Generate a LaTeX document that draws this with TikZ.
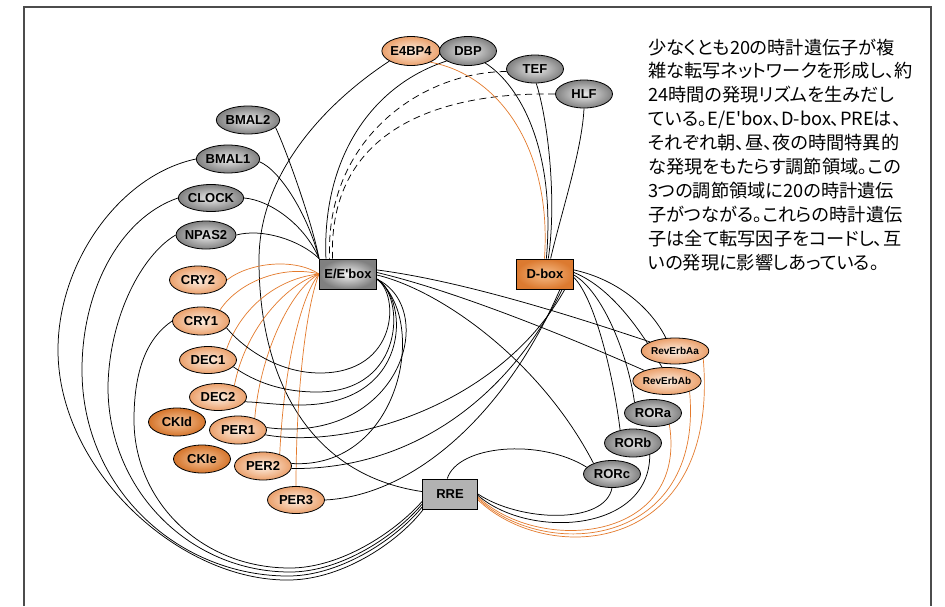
\documentclass[tikz,border=0pt]{standalone}
\usepackage{fontspec}
\newfontfamily\labfont{Liberation Sans}
\newfontfamily\cjkfont{Noto Sans CJK JP}[RawFeature=+palt]
\newcommand\jasetup{\XeTeXlinebreaklocale "ja"\XeTeXlinebreakskip=0pt plus 6pt\relax}
\usetikzlibrary{shapes.geometric,backgrounds}
\definecolor{peachin}{HTML}{FDF0E4}
\definecolor{peachout}{HTML}{EBA06B}
\definecolor{ckin}{HTML}{F6C8A0}
\definecolor{ckout}{HTML}{D5742A}
\definecolor{oline}{HTML}{E47A2C}
\definecolor{dboxin}{HTML}{F7BE8A}
\definecolor{dboxout}{HTML}{DC7A30}
\definecolor{rregray}{HTML}{B2B2B2}
\tikzset{
  gene/.style={ellipse, draw=black, line width=0.8pt, minimum width=57pt, minimum height=28pt, inner sep=0pt, font=\labfont\bfseries\fontsize{13}{15}\selectfont},
  grayg/.style={gene, inner color=black!8, outer color=black!50},
  peach/.style={gene, inner color=peachin, outer color=peachout},
  cki/.style={gene, inner color=ckin, outer color=ckout},
  rev/.style={peach, minimum width=55pt, minimum height=26pt, font=\labfont\bfseries\fontsize{10}{12}\selectfont},
  regbox/.style={rectangle, draw=black, line width=0.9pt, minimum width=57pt, minimum height=30pt, inner sep=0pt, font=\labfont\bfseries\fontsize{13}{15}\selectfont},
  eebox/.style={regbox, inner color=black!5, outer color=black!50},
  dboxst/.style={regbox, inner color=dboxin, outer color=dboxout},
  rrebox/.style={regbox, fill=rregray, minimum width=55pt},
  link/.style={draw=black, line width=0.75pt},
  olink/.style={draw=oline, line width=0.7pt},
  dlink/.style={link, dash pattern=on 7pt off 4.5pt},
  frameline/.style={draw=black!70, line width=1.5pt},
  jline/.style={anchor=base west, inner sep=0pt, font=\cjkfont\fontsize{18.2}{20}\selectfont\jasetup},
}
\newcommand\fl[1]{\makebox[259pt][s]{#1}}
\begin{document}
\begin{tikzpicture}[x=1pt,y=-1pt]
\useasboundingbox (0,0) rectangle (945,606);
% nodes
\node[peach, minimum height=29pt] (e4bp4) at (411,51) {E4BP4};
\node[grayg, minimum height=29pt] (dbp) at (468,51) {DBP};
\node[grayg] (tef) at (535,69) {TEF};
\node[grayg] (hlf) at (584,94) {HLF};
\node[grayg] (bmal2) at (248,120) {BMAL2};
\node[grayg] (bmal1) at (228,159) {BMAL1};
\node[grayg, minimum height=27pt] (clock) at (211,198) {CLOCK};
\node[grayg] (npas2) at (206,235) {NPAS2};
\node[peach] (cry2) at (198,280) {CRY2};
\node[peach] (cry1) at (201,321) {CRY1};
\node[peach, minimum height=27pt] (dec1) at (208,360) {DEC1};
\node[peach, minimum height=27pt] (dec2) at (218,397) {DEC2};
\node[cki] (ckid) at (177,422) {CKId};
\node[peach] (per1) at (238,430) {PER1};
\node[cki] (ckie) at (202,459) {CKIe};
\node[peach] (per2) at (263,466) {PER2};
\node[peach, minimum height=27pt] (per3) at (296,500) {PER3};
\node[eebox] (ee) at (348,274) {E/E'box};
\node[dboxst] (dbox) at (545,274) {D-box};
\node[rrebox] (rre) at (450,494) {RRE};
\node[rev] (reva) at (675,351) {RevErbAa};
\node[rev, minimum width=56pt, minimum height=27pt] (revb) at (667,381) {RevErbAb};
\node[grayg, minimum height=27pt] (rora) at (653,413) {RORa};
\node[grayg] (rorb) at (633,443) {RORb};
\node[grayg, minimum height=27pt] (rorc) at (612,474) {RORc};
% description text
\node[jline] (t1) at (648,54.0) {\fl{少なくとも\mbox{20}の時計遺伝子が複}};
\node[jline] (t2) at (648,77.9) {\fl{雑な転写ネットワークを形成し、約}};
\node[jline] (t3) at (648,101.8) {\fl{\mbox{24}時間の発現リズムを生みだし}};
\node[jline] (t4) at (648,125.7) {\fl{ている。\mbox{E/E'box}、\mbox{D-box}、\mbox{PRE}は、}};
\node[jline] (t5) at (648,149.6) {\fl{それぞれ朝、昼、夜の時間特異的}};
\node[jline] (t6) at (648,173.5) {\fl{な発現をもたらす調節領域。この}};
\node[jline] (t7) at (648,197.4) {\fl{3つの調節領域に\mbox{20}の時計遺伝}};
\node[jline] (t8) at (648,221.3) {\fl{子がつながる。これらの時計遺伝}};
\node[jline] (t9) at (648,245.2) {\fl{子は全て転写因子をコードし、互}};
\node[jline] (t10) at (648,269.1) {いの発現に影響しあっている。};
\begin{pgfonlayer}{background}
\fill[white] (0,0) rectangle (945,606);
\draw[frameline] (24,606) -- (24,7) -- (931,7) -- (931,606);
% activators to E/E'box
\draw[link] (bmal2.-15) .. controls (287,152) and (312,222) .. (ee.north west);
\draw[link] (bmal1.-5) .. controls (280,170) and (308,215) .. (ee.north west);
\draw[link] (clock.east) .. controls (270,200) and (305,225) .. (ee.north west);
\draw[link] (npas2.east) .. controls (262,228) and (300,240) .. (ee.north west);
\draw[link] (dbp.205) .. controls (370,86) and (322,160) .. (ee.145);
\draw[dlink] (tef.185) .. controls (420,72) and (325,140) .. (ee.140);
\draw[dlink] (hlf.180) .. controls (430,92) and (328,135) .. (ee.135);
% E4BP4, DBP, TEF, HLF
\draw[link] (e4bp4.205) .. controls (330,100) and (259,170) .. (259,260) .. controls (259,380) and (310,475) .. (rre.175);
\draw[olink] (e4bp4.-30) .. controls (500,75) and (552,150) .. (dbox.92);
\draw[link] (dbp.-35) .. controls (520,85) and (556,150) .. (dbox.85);
\draw[link] (tef.-85) .. controls (548,120) and (557,200) .. (dbox.78);
\draw[link] (hlf.-90) .. controls (582,150) and (562,210) .. (dbox.70);
% repressors on E/E'box
\draw[olink] (ee.west) .. controls (295,258) and (250,262) .. (cry2.east);
\draw[olink] (ee.west) .. controls (285,265) and (240,280) .. (cry1.30);
\draw[olink] (ee.west) .. controls (280,278) and (242,305) .. (dec1.30);
\draw[olink] (ee.west) .. controls (285,285) and (245,330) .. (dec2.35);
\draw[olink] (ee.west) .. controls (290,290) and (260,355) .. (per1.35);
\draw[olink] (ee.west) .. controls (298,300) and (283,380) .. (per2.35);
\draw[olink] (ee.west) .. controls (305,310) and (296,400) .. (per3.north);
% E/E'box targets
\draw[link] (ee.-10) .. controls (400,295) and (398,373) .. (320,373) .. controls (282,373) and (247,352) .. (cry1.-15);
\draw[link] (ee.-10) .. controls (405,295) and (406,392) .. (317,392) .. controls (282,392) and (255,382) .. (dec1.-15);
\draw[link] (ee.-10) .. controls (410,300) and (411,405) .. (300,405) .. controls (275,405) and (258,402) .. (dec2.-10);
\draw[link] (ee.-10) .. controls (440,310) and (400,445) .. (per1.5);
\draw[link] (ee.-10) .. controls (430,320) and (400,470) .. (per2.5);
\draw[link] (ee.8) .. controls (470,282) and (590,322) .. (reva.160);
\draw[link] (ee.3) .. controls (460,292) and (580,342) .. (revb.155);
\draw[link] (ee.-2) .. controls (440,290) and (540,360) .. (rorc.150);
% D-box targets
\draw[link] (dbox.8) .. controls (620,280) and (652,310) .. (reva.125);
\draw[link] (dbox.3) .. controls (612,288) and (642,332) .. (revb.110);
\draw[link] (dbox.-2) .. controls (603,292) and (628,355) .. (rora.150);
\draw[link] (dbox.-7) .. controls (596,300) and (614,380) .. (rorb.135);
\draw[link] (dbox.-38) .. controls (500,405) and (350,450) .. (per1.-10);
\draw[link] (dbox.-42) .. controls (502,410) and (400,470) .. (per2.-5);
\draw[link] (dbox.-46) .. controls (510,405) and (420,495) .. (per3.east);
% RRE
\draw[link] (rre.100) .. controls (458,445) and (540,438) .. (rorc.165);
\draw[link] (rre.0) .. controls (520,522) and (605,525) .. (rorc.south);
\draw[link] (rre.-3) .. controls (530,540) and (650,532) .. (rorb.-35);
\draw[olink] (rre.-6) .. controls (540,555) and (688,542) .. (rora.-35);
\draw[olink] (rre.-9) .. controls (545,562) and (704,548) .. (revb.-25);
\draw[olink] (rre.-12) .. controls (550,568) and (720,554) .. (reva.-15);
\draw[link] (bmal1.west) .. controls (120,175) and (58,262) .. (58,350) .. controls (58,470) and (180,582) .. (290,580) .. controls (345,579) and (400,540) .. (rre.210);
\draw[link] (clock.west) .. controls (120,218) and (82,290) .. (82,370) .. controls (82,490) and (180,577) .. (290,576) .. controls (343,575) and (398,537) .. (rre.205);
\draw[link] (npas2.west) .. controls (142,255) and (110,315) .. (108,385) .. controls (107,490) and (190,572) .. (290,572) .. controls (342,572) and (396,535) .. (rre.200);
\draw[link] (cry1.west) .. controls (147,338) and (134,370) .. (134,420) .. controls (134,500) and (200,568) .. (290,568) .. controls (340,568) and (394,533) .. (rre.195);
\end{pgfonlayer}
\end{tikzpicture}
\end{document}
